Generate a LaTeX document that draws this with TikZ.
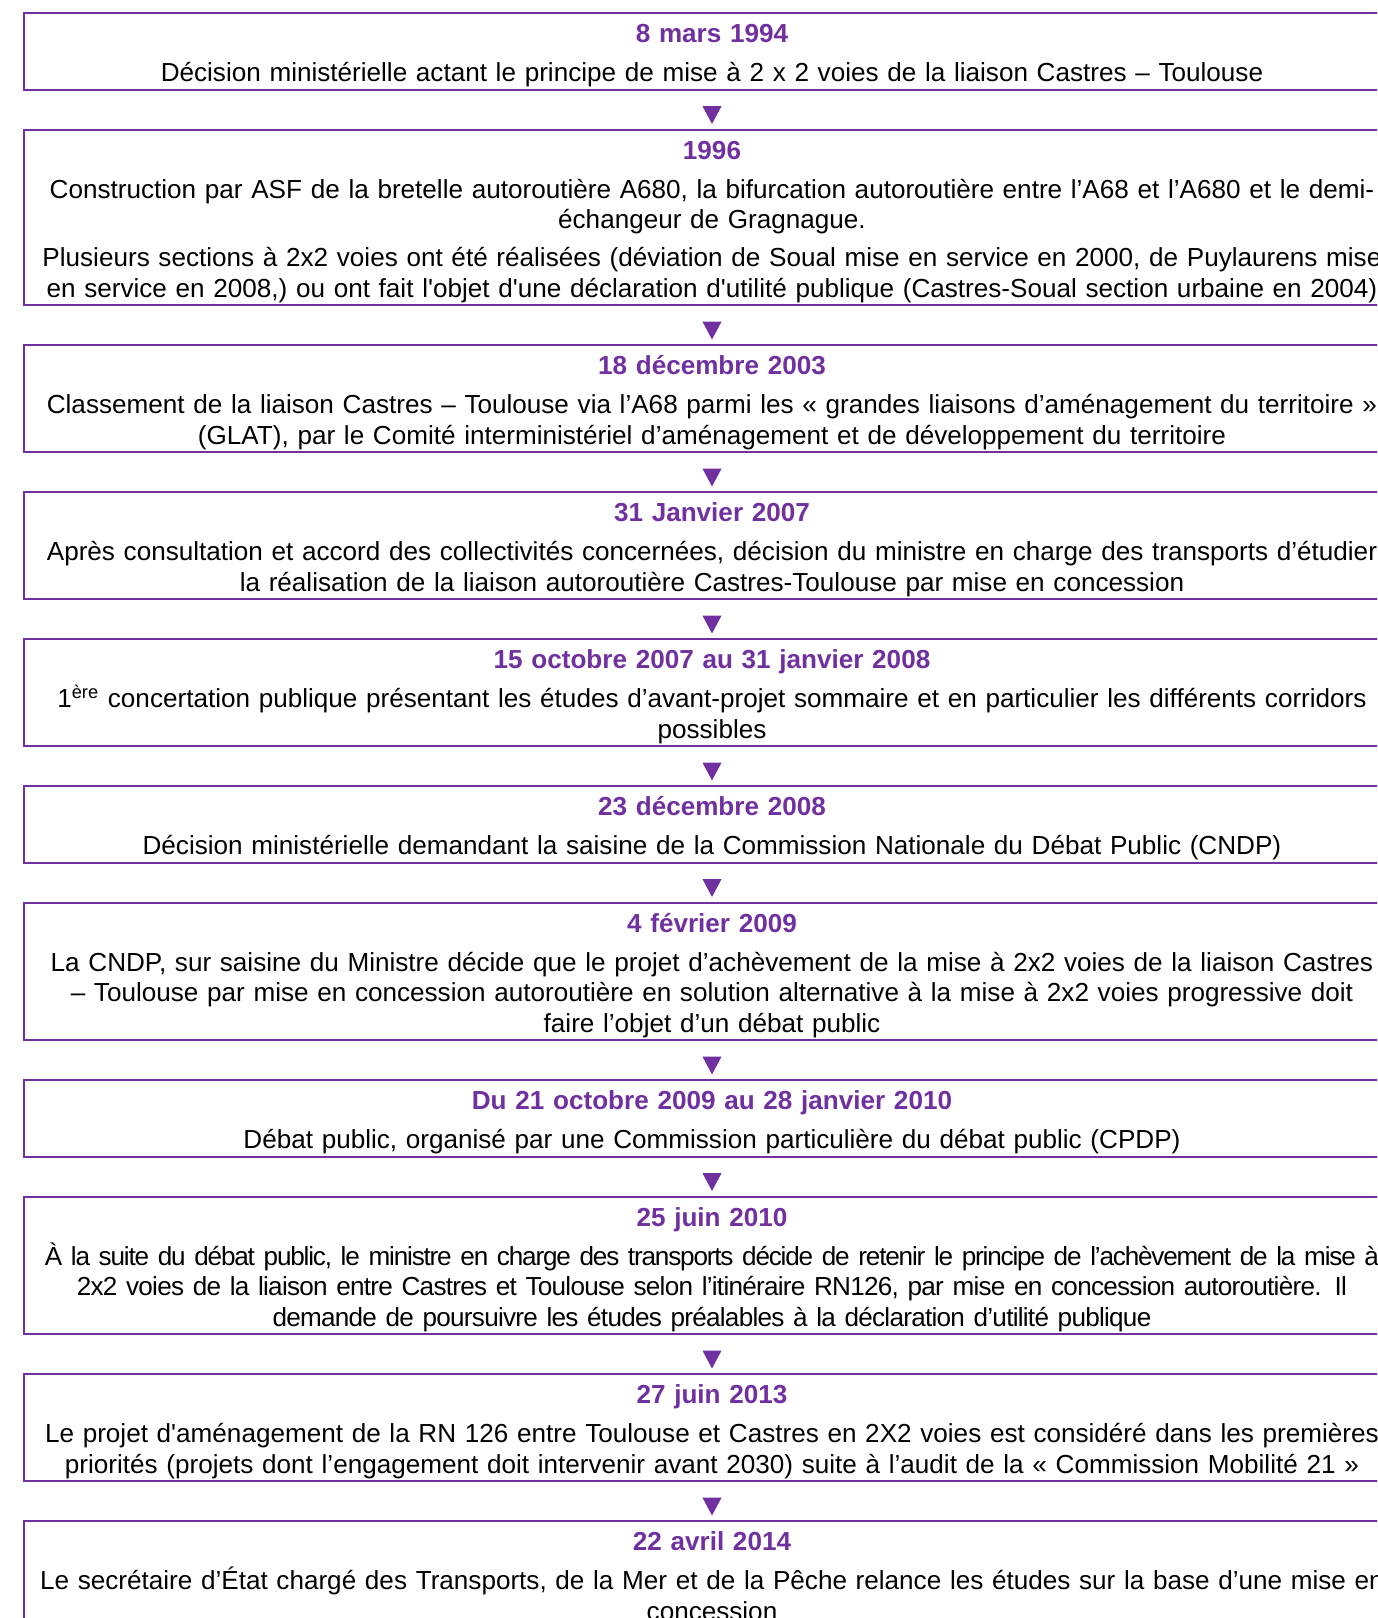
\documentclass[tikz,border=0pt]{standalone}
\usepackage{fontspec}
\setmainfont{Liberation Sans}[Ligatures=TeXOff]
\usetikzlibrary{positioning,shapes.geometric}
\definecolor{vio}{HTML}{7030A0}
\newcommand{\topstrut}{\rule{0pt}{14.55pt}}
\newcommand{\botstrut}{\rule[-4.15pt]{0pt}{4.15pt}}
\newcommand{\when}[1]{\topstrut{\bfseries\color{vio}#1}\\[4.3pt]}
\newcommand{\squeeze}[2]{{\addfontfeature{LetterSpace=#1}#2}}
\tikzset{
  event/.style={draw=vio, line width=1pt, rectangle, outer sep=0pt, inner xsep=2pt, inner ysep=0pt,
    text width=684pt, align=center, font=\fontsize{13.05pt}{15.25pt}\selectfont},
  tri/.style={isosceles triangle, isosceles triangle stretches, shape border rotate=270,
    fill=vio, inner sep=0pt, minimum width=9.5pt, minimum height=8.85pt}
}
\begin{document}
\begin{tikzpicture}[node distance=20pt]
	\useasboundingbox (0,0) rectangle (688.5pt,-809pt);
	\clip (0,0) rectangle (688.5pt,-809pt);
	\node[event, anchor=north west] (e1) at (12pt,-6.7pt) {\when{8 mars 1994}Décision ministérielle actant le principe de mise à 2 x 2 voies de la liaison Castres – Toulouse\botstrut};
	\node[event, below=of e1] (e2) {\when{1996}Construction par ASF de la bretelle autoroutière A680, la bifurcation autoroutière entre l’A68 et l’A680 et le demi-\\échangeur de Gragnague.\\[3.75pt]
		Plusieurs sections à 2x2 voies ont été réalisées (déviation de Soual mise en service en 2000, de Puylaurens mise\\en service en 2008,) ou ont fait l'objet d'une déclaration d'utilité publique (Castres-Soual section urbaine en 2004)\botstrut};
	\node[event, below=of e2] (e3) {\when{18 décembre 2003}Classement de la liaison Castres – Toulouse via l’A68 parmi les « grandes liaisons d’aménagement du territoire »\\(GLAT), par le Comité interministériel d’aménagement et de développement du territoire\botstrut};
	\node[event, below=of e3] (e4) {\when{31 Janvier 2007}Après consultation et accord des collectivités concernées, décision du ministre en charge des transports d’étudier\\la réalisation de la liaison autoroutière Castres-Toulouse par mise en concession\botstrut};
	\node[event, below=of e4] (e5) {\when{15 octobre 2007 au 31 janvier 2008}1\textsuperscript{ère} concertation publique présentant les études d’avant-projet sommaire et en particulier les différents corridors\\possibles\botstrut};
	\node[event, below=of e5] (e6) {\when{23 décembre 2008}Décision ministérielle demandant la saisine de la Commission Nationale du Débat Public (CNDP)\botstrut};
	\node[event, below=of e6] (e7) {\when{4 février 2009}La CNDP, sur saisine du Ministre décide que le projet d’achèvement de la mise à 2x2 voies de la liaison Castres\\– Toulouse par mise en concession autoroutière en solution alternative à la mise à 2x2 voies progressive doit\\faire l’objet d’un débat public\botstrut};
	\node[event, below=of e7] (e8) {\when{Du 21 octobre 2009 au 28 janvier 2010}Débat public, organisé par une Commission particulière du débat public (CPDP)\botstrut};
	\node[event, below=of e8] (e9) {\when{25 juin 2010}\squeeze{-4.5}{À la suite du débat public, le ministre en charge des transports décide de retenir le principe de l’achèvement de la mise à}\\\squeeze{-2.8}{2x2 voies de la liaison entre Castres et Toulouse selon l’itinéraire RN126, par mise en concession autoroutière. Il}\\\squeeze{-2.8}{demande de poursuivre les études préalables à la déclaration d’utilité publique}\botstrut};
	\node[event, below=of e9] (e10) {\when{27 juin 2013}Le projet d'aménagement de la RN 126 entre Toulouse et Castres en 2X2 voies est considéré dans les premières\\priorités (projets dont l’engagement doit intervenir avant 2030) suite à l’audit de la « Commission Mobilité 21 »\botstrut};
	\node[event, below=of e10] (e11) {\when{22 avril 2014}Le secrétaire d’État chargé des Transports, de la Mer et de la Pêche relance les études sur la base d’une mise en\\concession\botstrut};
	\foreach \i [count=\j from 2] in {1,...,10}
		\path (e\i.south) -- node[tri, pos=0.55] (t\i) {} (e\j.north);
\end{tikzpicture}
\end{document}
